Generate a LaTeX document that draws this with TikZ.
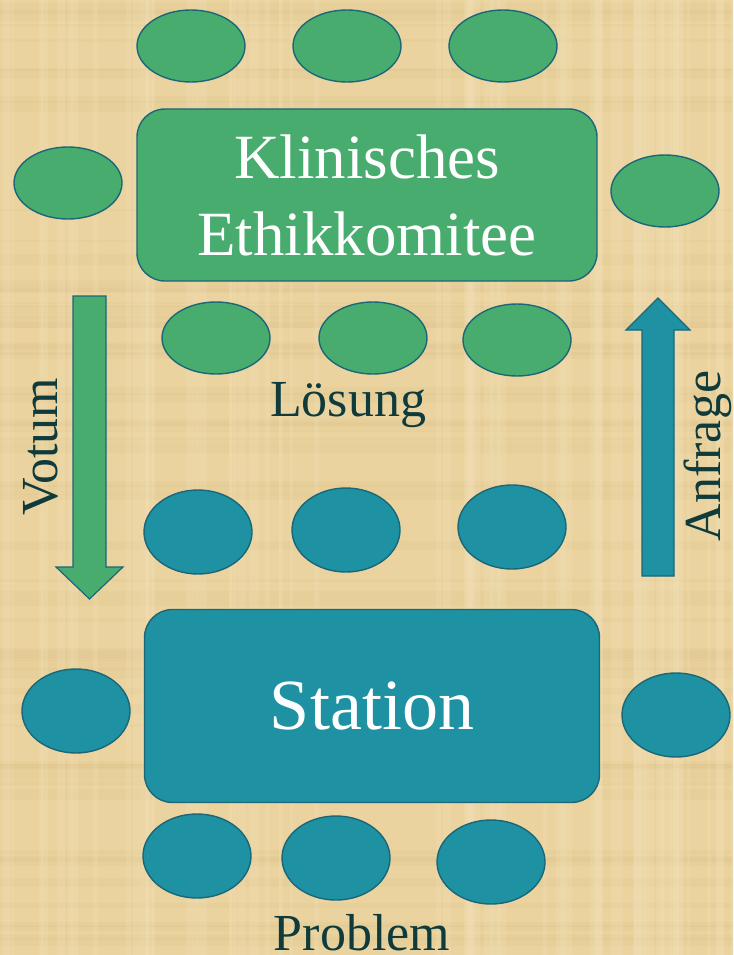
\documentclass[tikz,border=0pt]{standalone}
\usepackage{fontspec}
\setmainfont{Liberation Serif}
\usetikzlibrary{shapes.geometric}

\definecolor{papyrus}{HTML}{EBD3A0}
\definecolor{papyrusdark}{HTML}{D9BD83}
\definecolor{papyruslight}{HTML}{F3E2BA}
\definecolor{ethgreen}{HTML}{48AC6E}
\definecolor{statteal}{HTML}{1E91A2}
\definecolor{rim}{HTML}{1B6779}
\definecolor{inktext}{HTML}{0F3B3C}

\tikzset{
  seat/.style={ellipse, draw=rim, line width=1.4pt, minimum width=108pt, inner sep=0pt},
  greenseat/.style={seat, fill=ethgreen, minimum height=72pt},
  tealseat/.style={seat, fill=statteal, minimum height=84pt},
  tablebox/.style={draw=rim, line width=1.4pt, rounded corners=28pt, text=white, align=center},
  flowarrow/.style={draw=rim, line width=1.2pt},
  caption/.style={text=inktext, font=\fontsize{52}{60}\selectfont, inner sep=0pt},
}

\begin{document}
\begin{tikzpicture}[x=1pt, y=-1pt]
  % paper background with a light fibre texture
  \fill[papyrus] (0,0) rectangle (733,955);
  \useasboundingbox (0,0) rectangle (733,955);
  \pgfmathsetseed{4711}
  \foreach \i in {1,...,60}{
    \pgfmathsetmacro{\yy}{rnd*955}
    \pgfmathsetmacro{\hh}{2+rnd*10}
    \fill[papyrusdark, opacity=0.18] (0,\yy) rectangle (733,\yy+\hh);
  }
  \foreach \i in {1,...,60}{
    \pgfmathsetmacro{\xx}{rnd*733}
    \pgfmathsetmacro{\ww}{2+rnd*10}
    \fill[papyruslight, opacity=0.22] (\xx,0) rectangle (\xx+\ww,955);
  }

  % ethics committee table and seats
  \node[tablebox, fill=ethgreen, minimum width=460pt, minimum height=172pt,
        font=\fontsize{63}{77}\selectfont] (kek) at (367,195) {Klinisches\\Ethikkomitee};
  \node[greenseat] (g1) at (191,46) {};
  \node[greenseat] (g2) at (347,46) {};
  \node[greenseat] (g3) at (503,46) {};
  \node[greenseat] (g4) at (68,183) {};
  \node[greenseat] (g5) at (665,191) {};
  \node[greenseat] (g6) at (216,338) {};
  \node[greenseat] (g7) at (373,338) {};
  \node[greenseat] (g8) at (517,340) {};

  % ward table and seats
  \node[tablebox, fill=statteal, minimum width=455pt, minimum height=193pt,
        font=\fontsize{72}{86}\selectfont] (station) at (372,706) {Station};
  \node[tealseat] (t1) at (198,532) {};
  \node[tealseat] (t2) at (346,530) {};
  \node[tealseat] (t3) at (512,527) {};
  \node[tealseat] (t4) at (76,711) {};
  \node[tealseat] (t5) at (676,715) {};
  \node[tealseat] (t6) at (197,856) {};
  \node[tealseat] (t7) at (336,858) {};
  \node[tealseat] (t8) at (491,862) {};

  % captions
  \node[caption] (loesung) at (348,405) {Lösung};
  \node[caption, anchor=base] (problem) at (362,950) {Problem};
  \node[caption, rotate=90] (votum) at (41,447) {Votum};
  \node[caption, rotate=90] (anfrage) at (708,456) {Anfrage};

  % block arrows
  \draw[flowarrow, fill=ethgreen]
    (73,296) -- (106,296) -- (106,567) -- (123,567) -- (89.5,599)
    -- (56,567) -- (73,567) -- cycle;
  \draw[flowarrow, fill=statteal]
    (642,576) -- (674,576) -- (674,330) -- (690,330) -- (658,298)
    -- (626,330) -- (642,330) -- cycle;
\end{tikzpicture}
\end{document}
